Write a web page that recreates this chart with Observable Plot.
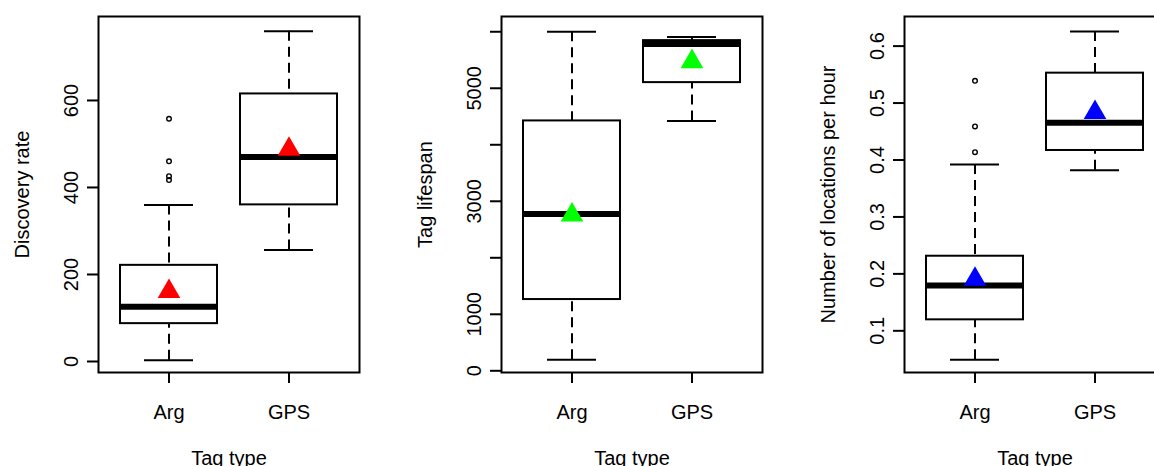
<!DOCTYPE html>
<html>
<head>
<meta charset="utf-8">
<script src="https://cdn.jsdelivr.net/npm/d3@7"></script>
<script src="https://cdn.jsdelivr.net/npm/@observablehq/plot@0.6"></script>
<style>
  html, body { margin: 0; padding: 0; background: #fff; overflow: hidden; }
  #wrap { position: relative; width: 1154px; height: 466px; overflow: hidden; background: #fff; }
  .panel { position: absolute; top: 0; width: 403px; height: 466px; }
  .panel svg { max-width: none !important; }
</style>
</head>
<body>
<div id="wrap"></div>
<script>
// ---- Data ----
const tagTypes = ["Arg", "GPS"];
const xAxisTitle = "Tag type";

// Panel 1: Discovery rate
const discTitle = "Discovery rate";
const discLo = [3, 256];
const discQ1 = [87, 360];
const discMed = [126, 470];
const discQ3 = [221, 615];
const discHi = [360, 759];
const discMean = [161, 488];
const discOutArg = [417, 426, 460, 558];
const discOutGps = [];
const discTicks = [0, 200, 400, 600];
const discTickLabels = ["0", "200", "400", "600"];

// Panel 2: Tag lifespan
const lifeTitle = "Tag lifespan";
const lifeLo = [195, 4422];
const lifeQ1 = [1261, 5100];
const lifeMed = [2777, 5785];
const lifeQ3 = [4422, 5843];
const lifeHi = [6000, 5908];
const lifeMean = [2758, 5471];
const lifeOutArg = [];
const lifeOutGps = [];
const lifeTicks = [0, 1000, 2000, 3000, 4000, 5000, 6000];
const lifeTickLabels = ["0", "1000", "", "3000", "", "5000", ""];

// Panel 3: Number of locations per hour
const locTitle = "Number of locations per hour";
const locLo = [0.049, 0.382];
const locQ1 = [0.1193, 0.4167];
const locMed = [0.1796, 0.4654];
const locQ3 = [0.231, 0.5525];
const locHi = [0.392, 0.6257];
const locMean = [0.1906, 0.4834];
const locOutArg = [0.4137, 0.459, 0.539];
const locOutGps = [];
const locTicks = [0.1, 0.2, 0.3, 0.4, 0.5, 0.6];
const locTickLabels = ["0.1", "0.2", "0.3", "0.4", "0.5", "0.6"];

const meanColors = ["#ff0000", "#00ff00", "#0000ff"];

// ---- Drawing ----
const FONT = "'Liberation Sans', Arial, Helvetica, sans-serif";
const LW = 2;

function panel({title, lo, q1, med, q3, hi, mean, outliers, domain, ticks, tickLabels, color}) {
  const stats = tagTypes.map((t, i) => ({type: t, lo: lo[i], q1: q1[i], med: med[i], q3: q3[i], hi: hi[i], mean: mean[i]}));
  const out = tagTypes.flatMap((t, i) => outliers[i].map(v => ({type: t, v})));
  const labelled = ticks.map((v, i) => ({v, label: tickLabels[i]})).filter(d => d.label !== "");
  return Plot.plot({
    width: 403, height: 466,
    marginLeft: 98, marginRight: 44, marginTop: 16, marginBottom: 94,
    style: {fontFamily: FONT, fontSize: "20px", background: "white", color: "black", overflow: "visible", maxWidth: "none"},
    x: {type: "band", domain: tagTypes, paddingInner: 0.19167, paddingOuter: 0.18333, align: 0.5, axis: null},
    y: {domain, axis: null},
    marks: [
      // whiskers (dashed), drawn from the whisker end towards the hinge
      Plot.ruleX(stats, {x: "type", y1: "lo", y2: "q1", stroke: "black", strokeWidth: LW, strokeDasharray: "10,6"}),
      Plot.ruleX(stats, {x: "type", y1: "hi", y2: "q3", stroke: "black", strokeWidth: LW, strokeDasharray: "10,6"}),
      // whisker caps
      Plot.tickY(stats, {x: "type", y: "lo", inset: 24, stroke: "black", strokeWidth: LW}),
      Plot.tickY(stats, {x: "type", y: "hi", inset: 24, stroke: "black", strokeWidth: LW}),
      // boxes
      Plot.barY(stats, {x: "type", y1: "q1", y2: "q3", fill: "white", stroke: "black", strokeWidth: LW}),
      // medians
      Plot.tickY(stats, {x: "type", y: "med", stroke: "black", strokeWidth: 6}),
      // outliers
      Plot.dot(out, {x: "type", y: "v", r: 2.3, stroke: "black", strokeWidth: 1.4, fill: "none"}),
      // means
      Plot.dot(stats, {x: "type", y: "mean", symbol: "triangle", r: 8.4, fill: color, stroke: "none"}),
      // frame
      Plot.frame({stroke: "black", strokeWidth: LW}),
      // x axis ticks + labels
      Plot.axisX({tickSize: 11, tickFormat: () => "", label: null, stroke: "black", strokeWidth: LW}),
      Plot.text(tagTypes, {x: d => d, frameAnchor: "bottom", dy: 46.3, lineAnchor: "bottom", textAnchor: "middle", fill: "black"}),
      Plot.text([xAxisTitle], {frameAnchor: "bottom", dy: 92, lineAnchor: "bottom", textAnchor: "middle", fill: "black"}),
      // y axis ticks + labels
      Plot.axisY({ticks, tickSize: 11, tickFormat: () => "", label: null, stroke: "black", strokeWidth: LW}),
      Plot.text(labelled, {y: "v", text: "label", frameAnchor: "left", dx: -20.5, rotate: -90, lineAnchor: "bottom", textAnchor: "middle", fill: "black"}),
      Plot.text([title], {frameAnchor: "left", dx: -70, rotate: -90, lineAnchor: "bottom", textAnchor: "middle", fill: "black"})
    ]
  });
}

const panels = [
  panel({title: discTitle, lo: discLo, q1: discQ1, med: discMed, q3: discQ3, hi: discHi, mean: discMean,
         outliers: [discOutArg, discOutGps], domain: [-25.3, 793], ticks: discTicks, tickLabels: discTickLabels, color: meanColors[0]}),
  panel({title: lifeTitle, lo: lifeLo, q1: lifeQ1, med: lifeMed, q3: lifeQ3, hi: lifeHi, mean: lifeMean,
         outliers: [lifeOutArg, lifeOutGps], domain: [-30, 6270], ticks: lifeTicks, tickLabels: lifeTickLabels, color: meanColors[1]}),
  panel({title: locTitle, lo: locLo, q1: locQ1, med: locMed, q3: locQ3, hi: locHi, mean: locMean,
         outliers: [locOutArg, locOutGps], domain: [0.0268, 0.652], ticks: locTicks, tickLabels: locTickLabels, color: meanColors[2]})
];

const wrap = document.getElementById("wrap");
panels.forEach((svg, i) => {
  const div = document.createElement("div");
  div.className = "panel";
  div.style.left = (i * 403) + "px";
  div.appendChild(svg);
  wrap.appendChild(div);
});
</script>
</body>
</html>
